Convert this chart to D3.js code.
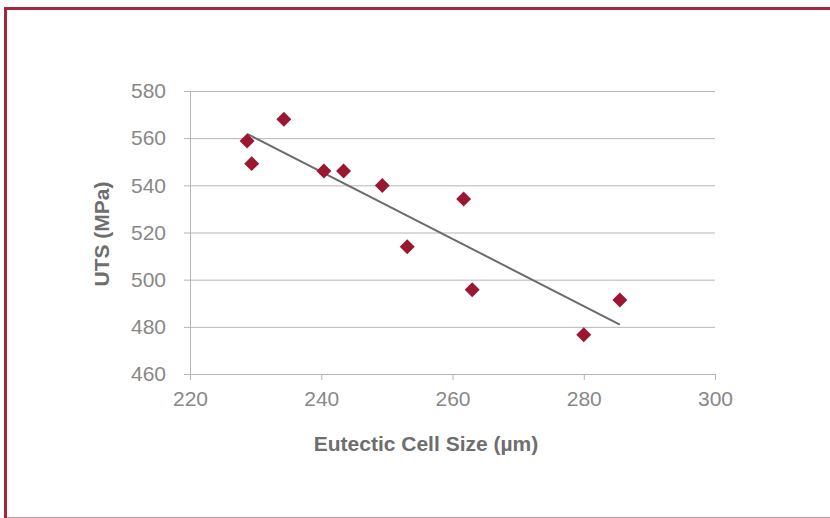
<!DOCTYPE html>
<html>
<head>
<meta charset="utf-8">
<script src="https://cdn.jsdelivr.net/npm/d3@7"></script>
<style>
  body { margin: 0; background: #fff; }
  text { font-family: Arial, "Liberation Sans", sans-serif; }
</style>
</head>
<body>
<div id="chart-area"></div>
<script>
// data
const cellSize = [228.7, 229.4, 234.3, 240.4, 243.4, 249.3, 253.1, 261.7, 263.0, 280.0, 285.5];
const uts      = [558.8, 549.2, 568.0, 546.1, 546.1, 539.9, 514.0, 534.2, 495.7, 476.6, 491.4];
const xTicks = [220, 240, 260, 280, 300];
const yTicks = [460, 480, 500, 520, 540, 560, 580];

const canvas = { width: 830, height: 518 };
const plot = { left: 190, right: 715, top: 91, bottom: 374 };

const svg = d3.select("#chart-area").append("svg").attr("width", canvas.width).attr("height", canvas.height);

// frame
svg.append("rect").attr("x", 5.5).attr("y", 8.5).attr("width", 900).attr("height", 510.5)
    .attr("fill", "none").attr("stroke", "#a4283d").attr("stroke-width", 3);

// scales
const x = d3.scaleLinear().domain([220, 300]).range([plot.left, plot.right]);
const y = d3.scaleLinear().domain([460, 580]).range([plot.bottom, plot.top]);

// gridlines + y axis
const yAxis = svg.append("g").attr("transform", "translate(" + plot.left + ",0)")
    .call(d3.axisLeft(y).tickValues(yTicks).tickSize(6).tickPadding(6));
yAxis.select(".domain").attr("stroke", "#b5b5b5");
yAxis.selectAll(".tick line").attr("stroke", "#b5b5b5").attr("x2", plot.right - plot.left)
    .attr("x1", -6);
yAxis.selectAll(".tick text").attr("fill", "#888").attr("font-size", 21).attr("x", -24);

const xAxis = svg.append("g").attr("transform", "translate(0," + plot.bottom + ")")
    .call(d3.axisBottom(x).tickValues(xTicks).tickSize(6).tickPadding(11));
xAxis.select(".domain").attr("stroke", "#b5b5b5");
xAxis.selectAll(".tick line").attr("stroke", "#b5b5b5");
xAxis.selectAll(".tick text").attr("fill", "#888").attr("font-size", 21);
svg.selectAll(".domain").attr("d", function() { return d3.select(this).attr("d").replace(/M[^V]*V6/, "M0,0").replace(/V0H[-\d.]+V6$/, ""); });

// least squares trend line
const pts = cellSize.map((c, i) => ({ x: c, y: uts[i] }));
const mx = d3.mean(cellSize), my = d3.mean(uts);
const slope = d3.sum(pts, p => (p.x - mx) * (p.y - my)) / d3.sum(pts, p => (p.x - mx) ** 2);
const xMin = d3.min(cellSize), xMax = d3.max(cellSize);
svg.append("line")
    .attr("x1", x(xMin)).attr("y1", y(my + slope * (xMin - mx)))
    .attr("x2", x(xMax)).attr("y2", y(my + slope * (xMax - mx)))
    .attr("stroke", "#6b6b6b").attr("stroke-width", 2);

// markers
svg.selectAll("path.pt").data(pts).enter().append("path").attr("class", "pt")
    .attr("d", d3.symbol().type(d3.symbolSquare).size(112))
    .attr("transform", d => "translate(" + x(d.x) + "," + y(d.y) + ") rotate(45)")
    .attr("fill", "#9b1630");

// titles
svg.append("text").attr("x", 426).attr("y", 451)
    .attr("text-anchor", "middle").attr("font-size", 21).attr("font-weight", "bold").attr("fill", "#6e6e6e")
    .text("Eutectic Cell Size (µm)");

svg.append("text").attr("transform", "translate(109,234) rotate(-90)")
    .attr("text-anchor", "middle").attr("font-size", 21).attr("font-weight", "bold").attr("fill", "#6e6e6e")
    .text("UTS (MPa)");
</script>
</body>
</html>
